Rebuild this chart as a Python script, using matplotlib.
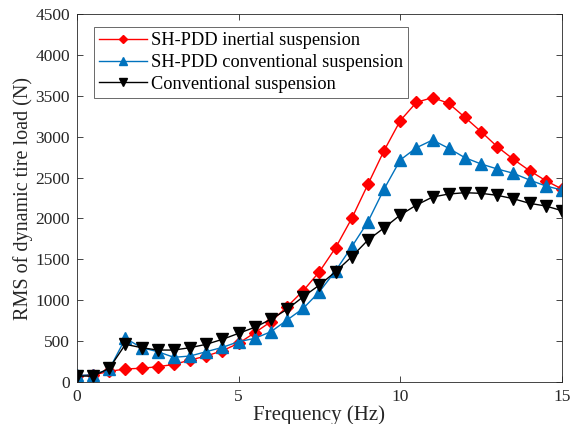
import matplotlib
matplotlib.use("Agg")
import matplotlib.pyplot as plt

plt.rcParams['font.family'] = ['Liberation Serif', 'DejaVu Serif']
plt.rcParams['mathtext.fontset'] = 'stix'

freq = [0, 0.5, 1, 1.5, 2, 2.5, 3, 3.5, 4, 4.5, 5, 5.5, 6, 6.5, 7, 7.5,
        8, 8.5, 9, 9.5, 10, 10.5, 11, 11.5, 12, 12.5, 13, 13.5, 14, 14.5, 15]

inertial = [75, 86, 130, 160, 168, 187, 215, 269, 318, 383, 473, 603, 738, 921,
            1117, 1349, 1642, 2001, 2417, 2830, 3196, 3420, 3478, 3407, 3236,
            3061, 2877, 2723, 2584, 2462, 2360]

shpdd_conv = [80, 88, 155, 534, 420, 371, 302, 318, 371, 424, 493, 534, 615, 758,
              901, 1104, 1361, 1654, 1960, 2360, 2715, 2865, 2959, 2857, 2743,
              2666, 2605, 2552, 2470, 2397, 2348]

conventional = [73, 73, 167, 461, 420, 391, 391, 420, 461, 522, 595, 669, 767, 889,
                1043, 1186, 1349, 1532, 1736, 1885, 2042, 2164, 2262, 2299, 2315,
                2307, 2283, 2241, 2185, 2152, 2095]

fig = plt.figure(figsize=(5.74, 4.24), dpi=100)
ax = fig.add_axes([0.134, 0.099, 0.845, 0.868])

ax.plot(freq, inertial, color='#FF0000', marker='D', markersize=6.2, lw=1.0,
        label='SH-PDD inertial suspension')
ax.plot(freq, shpdd_conv, color='#0072BD', marker='^', markersize=8, lw=1.0,
        label='SH-PDD conventional suspension')
ax.plot(freq, conventional, color='#000000', marker='v', markersize=8, lw=1.0,
        label='Conventional suspension')

ax.set_xlim(0, 15)
ax.set_ylim(0, 4500)
ax.set_xticks([0, 5, 10, 15])
ax.set_yticks(range(0, 4501, 500))
ax.tick_params(direction='in', top=True, right=True, labelsize=12.5,
               colors='#262626', length=4, width=0.6, pad=5)
for s in ax.spines.values():
    s.set_color('#262626')
    s.set_linewidth(0.6)

ax.set_xlabel('Frequency (Hz)', fontsize=15, color='#262626', labelpad=0)
ax.set_ylabel('RMS of dynamic tire load (N)', fontsize=14.5, color='#262626', labelpad=2)

leg = ax.legend(loc='upper left', bbox_to_anchor=(0.035, 0.965), fontsize=13.2,
                frameon=True, fancybox=False, edgecolor='#262626', borderpad=0.3,
                labelspacing=0.25, handlelength=2.6, handletextpad=0.2,
                borderaxespad=0, markerscale=0.7)
leg.get_frame().set_linewidth(0.6)

fig.savefig('out.png', dpi=100)
